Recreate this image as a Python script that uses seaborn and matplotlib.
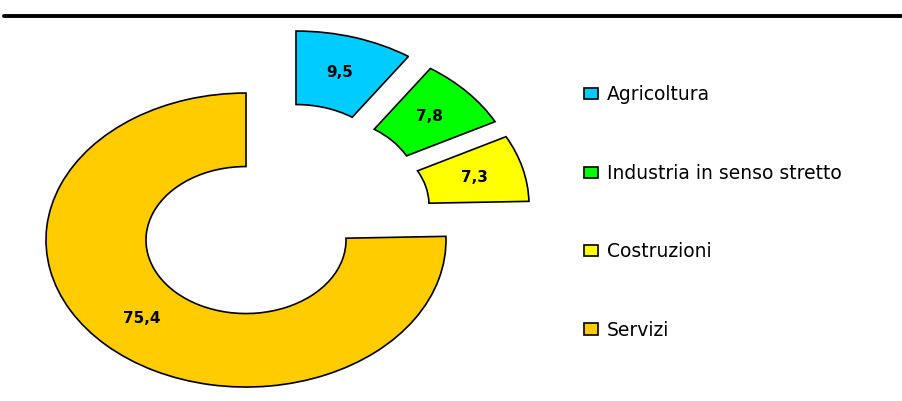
import matplotlib
matplotlib.use("Agg")
import matplotlib.pyplot as plt
import matplotlib.transforms as mtransforms
from matplotlib.lines import Line2D
import numpy as np
import seaborn as sns

sectors = ["Agricoltura", "Industria in senso stretto", "Costruzioni", "Servizi"]
shares = [9.5, 7.8, 7.3, 75.4]
share_labels = ["9,5", "7,8", "7,3", "75,4"]

COLORS = ["#00CCFF", "#00FF00", "#FFFF00", "#FFCC00"]
# explosion offsets of the wedges in pixels (right, up), as in the Excel original
EXPLODE_PX = [(50, 62), (72, 50), (83, 35), (0, 0)]

sns.set_theme(style="white")
plt.rcParams["font.family"] = ["DejaVu Sans"]

fig = plt.figure(figsize=(9.02, 4.01), dpi=100)
ax = fig.add_axes([0, 0, 1, 1])

wedges, _ = ax.pie(
    shares, colors=COLORS, startangle=90, counterclock=False, radius=1.0,
    wedgeprops=dict(width=0.5, edgecolor="black", linewidth=1.2),
)
# stretched (elliptical) doughnut like the original
ax.set_aspect("auto")
ax.set_xlim(-1.23, 3.28)
ax.set_ylim(-1.095, 1.633)
ax.axis("off")

for w, lab, (dx, dy) in zip(wedges, share_labels, EXPLODE_PX):
    shift = mtransforms.ScaledTranslation(dx / 100, dy / 100, fig.dpi_scale_trans)
    w.set_transform(ax.transData + shift)
    mid = np.deg2rad((w.theta1 + w.theta2) / 2)
    r = w.r - w.width / 2
    ax.text(r * np.cos(mid), r * np.sin(mid), lab, transform=ax.transData + shift,
            ha="center", va="center", fontsize=11, fontweight="bold", color="black")

ax.legend(
    wedges, sectors, loc="upper left", bbox_to_anchor=(0.6475, 0.787),
    bbox_transform=fig.transFigure, frameon=False, fontsize=13.5, labelcolor="black",
    labelspacing=3.17, handlelength=0.75, handleheight=0.55, handletextpad=0.45,
    borderpad=0, borderaxespad=0,
)

fig.add_artist(Line2D([4 / 902, 1], [1 - 16.3 / 401] * 2, transform=fig.transFigure,
                      color="black", linewidth=2.8))

fig.savefig("out.png", dpi=100)
